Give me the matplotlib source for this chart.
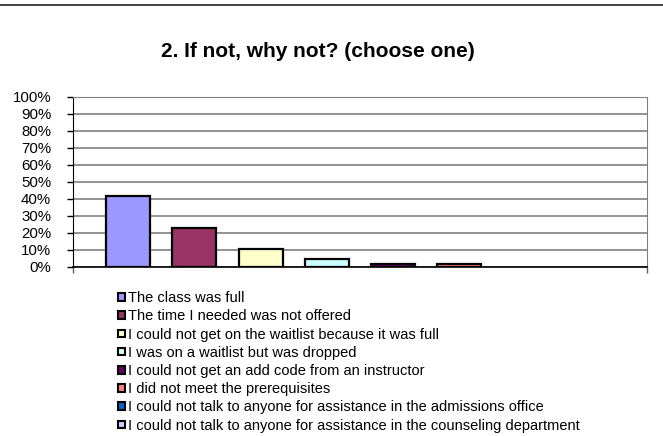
import matplotlib
matplotlib.use("Agg")
import matplotlib.pyplot as plt
from matplotlib.patches import Rectangle
from matplotlib.lines import Line2D
from matplotlib.ticker import FuncFormatter

plt.rcParams['font.family'] = ['Liberation Sans', 'DejaVu Sans']

title = "2. If not, why not? (choose one)"
labels = [
    "The class was full",
    "The time I needed was not offered",
    "I could not get on the waitlist because it was full",
    "I was on a waitlist but was dropped",
    "I could not get an add code from an instructor",
    "I did not meet the prerequisites",
    "I could not talk to anyone for assistance in the admissions office",
    "I could not talk to anyone for assistance in the counseling department",
]
values = [41.7, 22.6, 10.5, 4.8, 1.8, 1.8, 0, 0]
colors = ["#9999FF", "#993366", "#FFFFCC", "#CCFFFF",
          "#660066", "#FF8080", "#0066CC", "#CCCCFF"]
yticks = [0, 10, 20, 30, 40, 50, 60, 70, 80, 90, 100]

W, H = 663, 436
fig = plt.figure(figsize=(W / 100, H / 100), dpi=100)

# plot area in pixels
left, right, top, bottom = 73.3, 646.7, 96.7, 266.7
ax = fig.add_axes([left / W, (H - bottom) / H, (right - left) / W, (bottom - top) / H])

x = list(range(len(values)))
# zero bars get no outline, like excel
lws = [1.6 if v > 0 else 0 for v in values]
ax.bar(x, values, width=0.665, color=colors, edgecolor="black", linewidth=lws, zorder=3)

ax.set_xlim(-0.83, len(values) - 1 + 0.83)
ax.set_ylim(0, 100)
ax.set_yticks(yticks)
ax.yaxis.set_major_formatter(FuncFormatter(lambda v, p: f"{int(v)}%"))
ax.tick_params(axis="y", length=4, width=1, pad=12, labelsize=10.8, colors="black")
ax.set_xticks([-0.83, len(values) - 1 + 0.83])
ax.set_xticklabels(["", ""])
ax.tick_params(axis="x", length=4, width=1, color="#606060")
ax.grid(axis="y", color="#808080", linewidth=1.2, zorder=0)

ax.spines["left"].set_color("black")
ax.spines["bottom"].set_color("black")
ax.spines["bottom"].set_linewidth(1.2)
ax.spines["top"].set_color("#808080")
ax.spines["right"].set_color("#808080")
ax.spines["bottom"].set_zorder(4)

fig.text(317.5 / W, (H - 57.3) / H, title, ha="center", va="baseline",
         fontsize=15, fontweight="bold")

# top rule
fig.add_artist(Line2D([0, 1], [(H - 4.7) / H] * 2, color="#333333", linewidth=1.3,
                      transform=fig.transFigure))

# legend
y0, dy = 296.7, 18.2
for i, (lab, col) in enumerate(zip(labels, colors)):
    yc = y0 + i * dy
    fig.add_artist(Rectangle((117.5 / W, (H - yc - 4) / H), 7.5 / W, 7.5 / H,
                             facecolor=col, edgecolor="black", linewidth=1.5,
                             transform=fig.transFigure))
    fig.text(127.7 / W, (H - yc) / H, lab, ha="left", va="center_baseline", fontsize=10.5)

fig.savefig("out.png", dpi=100)
